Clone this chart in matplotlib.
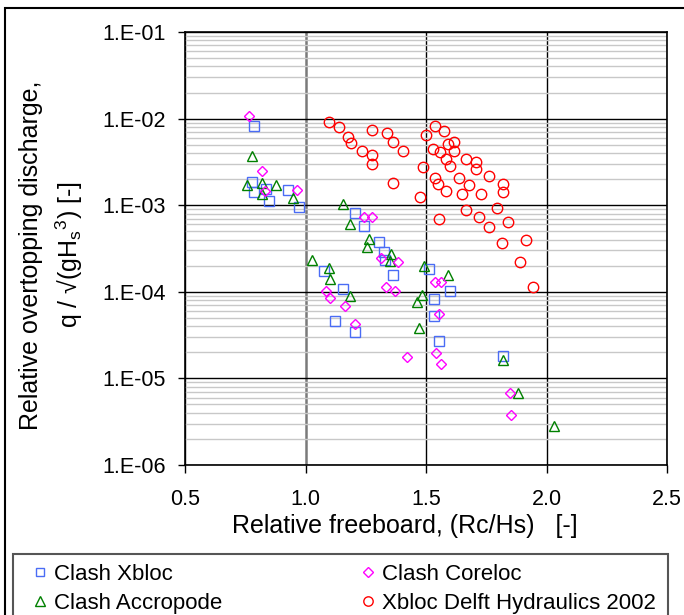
import numpy as np
import matplotlib
matplotlib.use("Agg")
import matplotlib.pyplot as plt
from matplotlib.patches import Rectangle
from matplotlib.ticker import LogLocator, FixedLocator, FuncFormatter

plt.rcParams["font.family"] = ["Liberation Sans", "DejaVu Sans"]
plt.rcParams["mathtext.fontset"] = "custom"
plt.rcParams["mathtext.rm"] = "Liberation Sans"
plt.rcParams["mathtext.it"] = "Liberation Sans"

# Clash Xbloc (squares)
xbloc_x = [0.787, 0.778, 0.786, 0.838, 0.848, 0.926, 0.975, 1.204, 1.244, 1.303,
           1.324, 1.329, 1.363, 1.075, 1.154, 1.124, 1.205, 1.514, 1.601, 1.532,
           1.532, 1.553, 1.820]
xbloc_q = [8.2e-3, 1.84e-3, 1.42e-3, 1.55e-3, 1.12e-3, 1.48e-3, 9.5e-4, 8.2e-4, 5.8e-4, 3.8e-4,
           2.9e-4, 2.3e-4, 1.57e-4, 1.73e-4, 1.08e-4, 4.6e-5, 3.4e-5, 1.84e-4, 1.01e-4, 8.3e-5,
           5.2e-5, 2.7e-5, 1.83e-5]

# Clash Coreloc (diamonds)
coreloc_x = [0.767, 0.818, 0.831, 0.966, 1.244, 1.274, 1.312, 1.385, 1.086, 1.103,
             1.165, 1.205, 1.333, 1.371, 1.539, 1.563, 1.553, 1.422, 1.542, 1.563,
             1.848, 1.851]
coreloc_q = [1.07e-2, 2.5e-3, 1.46e-3, 1.51e-3, 7.4e-4, 7.4e-4, 2.45e-4, 2.2e-4, 1.03e-4, 8.4e-5,
             6.9e-5, 4.2e-5, 1.13e-4, 1.03e-4, 1.31e-4, 1.31e-4, 5.6e-5, 1.75e-5, 1.96e-5, 1.46e-5,
             6.7e-6, 3.8e-6]

# Clash Accropode (triangles)
accro_x = [0.776, 0.758, 0.818, 0.818, 0.876, 0.947, 1.154, 1.185, 1.263, 1.255,
           1.354, 1.351, 1.027, 1.097, 1.103, 1.185, 1.491, 1.592, 1.483, 1.464,
           1.473, 1.820, 1.880, 2.030]
accro_q = [3.7e-3, 1.7e-3, 1.8e-3, 1.36e-3, 1.7e-3, 1.22e-3, 1.02e-3, 6.0e-4, 4.1e-4, 3.3e-4,
           2.7e-4, 2.25e-4, 2.34e-4, 1.89e-4, 1.41e-4, 9.0e-5, 1.96e-4, 1.57e-4, 9.3e-5, 7.6e-5,
           3.8e-5, 1.64e-5, 6.7e-6, 2.8e-6]

# Xbloc Delft Hydraulics 2002 (circles)
delft_x = [1.099, 1.138, 1.178, 1.189, 1.234, 1.274, 1.274, 1.274, 1.340, 1.365,
           1.404, 1.363, 1.499, 1.539, 1.573, 1.530, 1.557, 1.592, 1.618, 1.618,
           1.583, 1.601, 1.486, 1.475, 1.539, 1.549, 1.583, 1.556, 1.638, 1.649,
           1.677, 1.667, 1.708, 1.708, 1.728, 1.762, 1.818, 1.818, 1.667, 1.718,
           1.762, 1.794, 1.842, 1.817, 1.916, 1.890, 1.943]
delft_q = [9.2e-3, 8.0e-3, 6.15e-3, 5.2e-3, 4.2e-3, 7.3e-3, 3.8e-3, 3.0e-3, 6.8e-3, 5.4e-3,
           4.2e-3, 1.82e-3, 6.4e-3, 8.2e-3, 7.2e-3, 4.5e-3, 4.1e-3, 5.1e-3, 5.4e-3, 4.2e-3,
           3.4e-3, 2.85e-3, 2.75e-3, 1.24e-3, 2.06e-3, 1.74e-3, 1.46e-3, 6.9e-4, 2.06e-3, 1.36e-3,
           1.7e-3, 3.45e-3, 3.15e-3, 2.65e-3, 1.36e-3, 2.2e-3, 1.74e-3, 1.42e-3, 8.7e-4, 7.3e-4,
           5.6e-4, 9.3e-4, 6.4e-4, 3.65e-4, 4.0e-4, 2.2e-4, 1.15e-4]

W, H = 684, 615
fig = plt.figure(figsize=(W / 100, H / 100), dpi=100, facecolor="white")

# outer chart frame (cut off at right and bottom)
fig.patches.append(Rectangle((5 / W, -0.2), 1.2, 1.2 - 8 / H,
                             transform=fig.transFigure, fill=False,
                             edgecolor="black", lw=1.5))
# legend frame (also cut off at the bottom)
fig.patches.append(Rectangle((13 / W, -0.1), (668 - 13) / W, 0.1 + 1 - 554 / H,
                             transform=fig.transFigure, fill=False,
                             edgecolor="#555555", lw=1.5))

L, R, T, B = 185, 667, 32, 465
ax = fig.add_axes([L / W, 1 - B / H, (R - L) / W, (B - T) / H])
ax.set_yscale("log")
ax.set_xlim(0.5, 2.5)
ax.set_ylim(1e-6, 1e-1)

ax.yaxis.set_minor_locator(LogLocator(base=10, subs=np.arange(2, 10)))
ax.yaxis.set_major_formatter(FuncFormatter(lambda v, p: "1.E%+03d" % int(round(np.log10(v))) if v > 0 else ""))
ax.yaxis.set_minor_formatter(FuncFormatter(lambda v, p: ""))
ax.xaxis.set_major_locator(FixedLocator([0.5, 1.0, 1.5, 2.0, 2.5]))
ax.xaxis.set_major_formatter(FuncFormatter(lambda v, p: "%.1f" % v))

ax.grid(True, which="minor", axis="y", color="#c8c8c8", lw=1.0, zorder=0)
ax.grid(True, which="major", axis="both", color="black", lw=1.0, zorder=1)
ax.set_axisbelow(True)
# the 1.0 line renders as a softer, wider grey line in the original
ax.get_xgridlines()[1].set_color("#7a7a7a")
ax.get_xgridlines()[1].set_linewidth(1.8)

ax.tick_params(axis="y", which="major", direction="out", length=5, width=1,
               labelsize=15.5, pad=9)
ax.tick_params(axis="y", which="minor", length=0)
ax.tick_params(axis="x", which="major", direction="out", length=6, width=1,
               labelsize=15.5, pad=11)
for s in ax.spines.values():
    s.set_linewidth(1.2)

ms_kw = dict(linestyle="none", markerfacecolor="none", markeredgewidth=1.0, zorder=3)
h_xb, = ax.plot(xbloc_x, xbloc_q, marker="s", ms=6.5, markeredgecolor="#4a6cf5",
                label="Clash Xbloc", **ms_kw)
h_ac, = ax.plot(accro_x, accro_q, marker="^", ms=7.5, markeredgecolor="#008000",
                label="Clash Accropode", **ms_kw)
h_co, = ax.plot(coreloc_x, coreloc_q, marker="D", ms=5.5, markeredgecolor="#ff00ff",
                label="Clash Coreloc", **ms_kw)
h_de, = ax.plot(delft_x, delft_q, marker="o", ms=7.5, markeredgecolor="#ff0000",
                label="Xbloc Delft Hydraulics 2002", **ms_kw)

ax.set_xlabel("Relative freeboard, (Rc/Hs)   [-]", fontsize=18)
ax.xaxis.set_label_coords((404.5 - L) / (R - L), -0.114)
ax.xaxis.label.set_va("top")

yc = 1 - 255 / H
fig.text(31 / W, yc, "Relative overtopping discharge,", rotation=90,
         ha="center", va="center", fontsize=18)
fig.text(69 / W, yc, r"q / √(g$\mathregular{{H_s}^3}$) [-]", rotation=90,
         ha="center", va="center", fontsize=18)

leg_kw = dict(loc="center left", ncol=1, fontsize=16, frameon=False,
              handlelength=0.6, handletextpad=0.3, markerscale=0.9,
              borderpad=0, labelspacing=0.36, borderaxespad=0)
fig.legend([h_xb, h_ac], ["Clash Xbloc", "Clash Accropode"],
           bbox_to_anchor=(33.5 / W, 1 - 588.5 / H), **leg_kw)
fig.legend([h_co, h_de], ["Clash Coreloc", "Xbloc Delft Hydraulics 2002"],
           bbox_to_anchor=(361.5 / W, 1 - 588.5 / H), **leg_kw)

fig.savefig("out.png", dpi=100, facecolor="white")
